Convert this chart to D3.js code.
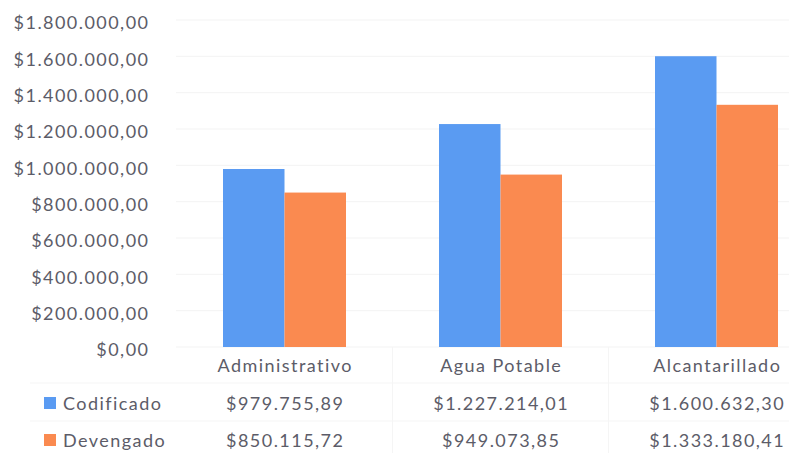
<!DOCTYPE html>
<html><head><meta charset="utf-8">
<script src="https://cdn.jsdelivr.net/npm/d3@7"></script>
<style>body{margin:0;background:#fff}svg{display:block}text{font-family:Lato,"Open Sans",sans-serif;fill:#5c5c68;letter-spacing:1.45px}</style>
</head><body><svg id="c" width="789" height="453"></svg>
<script>
const categories = ["Administrativo", "Agua Potable", "Alcantarillado"];
const seriesNames = ["Codificado", "Devengado"];
const codificado = [979755.89, 1227214.01, 1600632.30];
const devengado = [850115.72, 949073.85, 1333180.41];
const yTicks = [0, 200000, 400000, 600000, 800000, 1000000, 1200000, 1400000, 1600000, 1800000];
const colors = ["#5a9bf2", "#fa8a50"];

const svg = d3.select("#c");
const fmt = v => "$" + d3.format(",.2f")(v).replace(/,/g, "#").replace(/\./g, ",").replace(/#/g, ".");

const y = d3.scaleLinear().domain([0, 1800000]).range([347, 20]);
const x = d3.scaleBand().domain(categories).range([176.5, 824.5]);
const ls = 1.45;

// gridlines
svg.append("g").selectAll("line").data(yTicks).join("line")
  .attr("x1", 176).attr("x2", 789).attr("y1", d => y(d)).attr("y2", d => y(d))
  .attr("stroke", "#f3f3f3").attr("stroke-width", 1);

// y axis labels
const yAxis = d3.axisLeft(y).tickValues(yTicks).tickFormat(fmt).tickSize(0).tickPadding(0);
const ya = svg.append("g").attr("transform", `translate(${148 + ls},3)`).call(yAxis);
ya.select(".domain").remove();
ya.selectAll("text").style("font-size", "18px").attr("fill", "#5c5c68").style("font-family", "Lato, sans-serif");

// table faint borders
const tb = svg.append("g").attr("stroke", "#f5f5f5");
categories.forEach((c, i) => {
  if (i > 0) tb.append("line").attr("x1", x(c)).attr("x2", x(c)).attr("y1", 347).attr("y2", 453);
});
[383, 421].forEach(yy => tb.append("line").attr("x1", 30).attr("x2", 789).attr("y1", yy).attr("y2", yy));

// bars
const data = [codificado, devengado];
const bw = 61.5;
data.forEach((vals, si) => {
  svg.append("g").selectAll("rect").data(vals).join("rect")
    .attr("x", (d, i) => x(categories[i]) + x.bandwidth() / 2 - bw + si * bw)
    .attr("width", bw)
    .attr("y", d => y(d))
    .attr("height", d => y(0) - y(d))
    .attr("fill", colors[si]);
});

// category labels
svg.append("g").selectAll("text").data(categories).join("text")
  .attr("x", d => x(d) + x.bandwidth() / 2 + ls / 2).attr("y", 365)
  .attr("text-anchor", "middle").attr("dominant-baseline", "central")
  .style("font-size", "18px").text(d => d);

// data table rows
const rowY = [403, 440];
data.forEach((vals, si) => {
  svg.append("g").selectAll("text").data(vals).join("text")
    .attr("x", (d, i) => x(categories[i]) + x.bandwidth() / 2 + ls / 2).attr("y", rowY[si])
    .attr("text-anchor", "middle").attr("dominant-baseline", "central")
    .style("font-size", "18px").text(d => fmt(d));
  svg.append("rect").attr("x", 44).attr("y", rowY[si] - 6).attr("width", 12).attr("height", 12).attr("fill", colors[si]);
  svg.append("text").attr("x", 63).attr("y", rowY[si]).attr("dominant-baseline", "central")
    .style("font-size", "18px").text(seriesNames[si]);
});
</script></body></html>
